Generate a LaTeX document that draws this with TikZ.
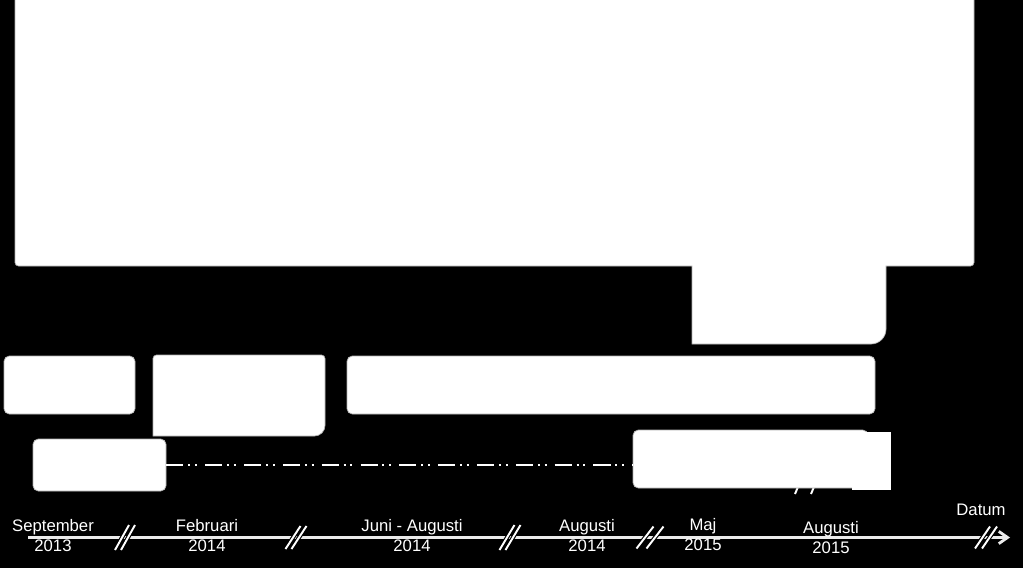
\documentclass[tikz,border=0pt]{standalone}
\usepackage{fontspec}
\setmainfont{Liberation Sans}
\usetikzlibrary{arrows.meta,fit}

\tikzset{
  panel/.style={fill=white, draw=black!30, line width=0.4pt},
  bar/.style={panel, inner sep=0pt, rounded corners=3pt},
  datelabel/.style={text=white, align=center, inner sep=0pt, font=\fontsize{9.5}{11.4}\selectfont},
  timeline/.style={draw=white!92!black, line width=1.6pt, -{Straight Barb[length=5pt,width=7pt]}},
  breakline/.style={draw=white, line width=1.1pt, preaction={draw=black, line width=2.4pt}},
  plan/.style={draw=white, line width=1.1pt, dash pattern=on 9.7pt off 2.8pt on 1.1pt off 2.8pt on 1.1pt off 4.6pt}
}
% x, gap, half width, half height
\newcommand{\breakmark}[4]{%
  \draw[breakline] (#1-#2/2-#3,537.5+#4) -- (#1-#2/2+#3,537.5-#4);
  \draw[breakline] (#1+#2/2-#3,537.5+#4) -- (#1+#2/2+#3,537.5-#4);
}

\begin{document}
\begin{tikzpicture}[x=0.02cm,y=-0.02cm]
\fill[black] (0,0) rectangle (1023,568);
\useasboundingbox (0,0) rectangle (1023,568);
% big block with the tab under it
\draw[panel] (15,-5) -- (974,-5) [rounded corners=2pt] -- (974,266) [sharp corners] -- (886,266) [rounded corners=8.5pt] -- (886,344) [sharp corners] -- (692,344) -- (692,266) [rounded corners=2pt] -- (15,266) [sharp corners] -- cycle;
% blocks
\node[bar, fit={(4,356) (135,414)}] (start) {};
\draw[panel] (153,436) [rounded corners=2pt] -- (153,355) -- (325,355) [rounded corners=6pt] -- (325,436) [sharp corners] -- cycle;
\node[bar, fit={(347,356) (875,414)}] (study) {};
\node[bar, fit={(33,439) (166,491)}] (pilot) {};
% mark under the last block
\draw[breakline] (795,494) -- (805,470);
\draw[breakline] (811,494) -- (821,470);
\node[bar, fit={(633,430) (868,488)}] (report) {};
\fill[white] (852,432) rectangle (891,490);
\draw[plan] (pilot.east) -- (pilot.east -| report.west);
% time axis
\coordinate (t0) at (28,537.5);
\coordinate (t1) at (1010,537.5);
\draw[timeline] (t0) -- (t1);
\breakmark{125}{6}{7}{12.5}
\breakmark{296}{6}{7.5}{11.5}
\breakmark{510}{6}{7.5}{12.5}
\breakmark{650}{10}{8.5}{11}
\breakmark{986}{7}{7.5}{11}
% dates
\node[datelabel] (sep13) at (53,535.5) {September\\2013};
\node[datelabel] (feb14) at (207,535.5) {Februari\\2014};
\node[datelabel] (jun14) at (412,535.5) {Juni - Augusti\\2014};
\node[datelabel] (aug14) at (587,536) {Augusti\\2014};
\node[datelabel] (maj15) at (703,534.5) {Maj\\2015};
\node[datelabel] (aug15) at (831,538) {Augusti\\2015};
\node[datelabel] (datum) at (981,510) {Datum};
\end{tikzpicture}
\end{document}
